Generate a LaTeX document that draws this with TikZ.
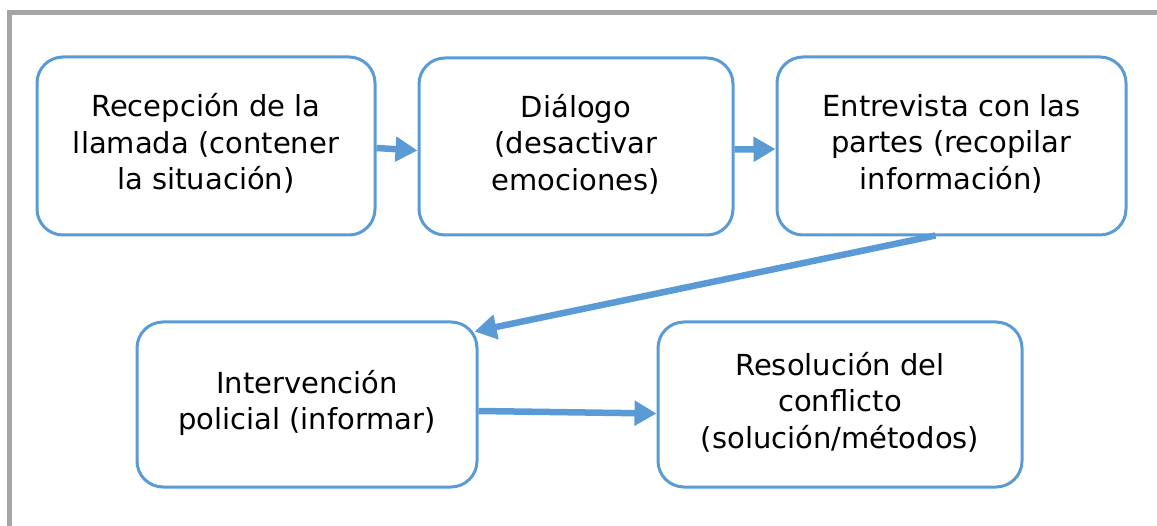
\documentclass[tikz,border=0pt]{standalone}
\usepackage{fontspec}
\setmainfont{DejaVu Sans}
\usetikzlibrary{arrows.meta,calc}
\definecolor{stepblue}{HTML}{5B9BD5}
\definecolor{framegray}{HTML}{A5A5A5}
% lifts the text block slightly above the box centre
\newcommand{\liftstrut}{\rule[-9pt]{0pt}{0pt}}
\tikzset{
  stepbox/.style={draw=stepblue, line width=3pt, rounded corners=26pt, fill=white,
    align=center, inner sep=0pt, font=\fontsize{29}{36.5}\selectfont},
  flow/.style={draw=stepblue, line width=6.5pt,
    -{Triangle[length=22pt,width=24pt]}},
}
\begin{document}
\begin{tikzpicture}[x=1pt,y=-1pt]
  \useasboundingbox (0,0) rectangle (1157,526);
  % outer frame (top and left edges)
  \draw[framegray, line width=5pt] (9.5,526) -- (9.5,12.5) -- (1157,12.5);

  % process steps
  \node[stepbox, minimum width=338pt, minimum height=178pt] (b1) at (206,146)
    {Recepción de la\\llamada (contener\\la situación)\liftstrut};
  \node[stepbox, minimum width=314pt, minimum height=177pt] (b2) at (576,146.5)
    {Diálogo\\(desactivar\\emociones)\liftstrut};
  \node[stepbox, minimum width=349pt, minimum height=178pt] (b3) at (951.5,146)
    {Entrevista con las\\partes (recopilar\\información)\liftstrut};
  \node[stepbox, minimum width=340pt, minimum height=165pt] (b4) at (307,404.5)
    {Intervención\\policial (informar)\liftstrut};
  \node[stepbox, minimum width=364pt, minimum height=165pt] (b5) at (840,404.5)
    {Resolución del\\conflicto\\(solución/métodos)\liftstrut};

  % connectors
  \draw[flow] ($(b1.east)+(0,2)$) -- ($(b2.west)+(0,4)$);
  \draw[flow] ($(b2.east)+(0,3)$) -- ($(b3.west)+(0,3)$);
  \draw[flow] ($(b3.south)+(-16,-1)$) -- ($(b4.north east)+(-4,11)$);
  \draw[flow] ($(b4.east)+(0,6.5)$) -- ($(b5.west)+(0,9)$);
\end{tikzpicture}
\end{document}
